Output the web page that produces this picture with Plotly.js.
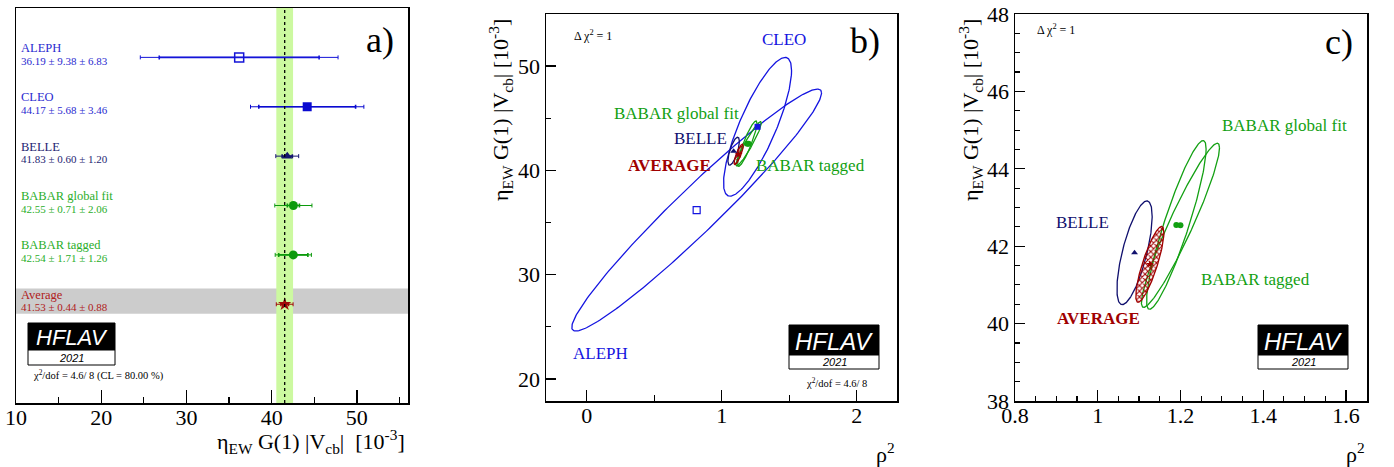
<!DOCTYPE html>
<html><head><meta charset="utf-8">
<script src="https://cdn.plot.ly/plotly-3.0.1.min.js"></script>
<style>html,body{margin:0;padding:0;background:#fff}</style>
</head><body><div id="chart" style="width:1394px;height:467px"></div>
<script>
// ---------- Panel a: measurements ----------
const experiments = ['ALEPH', 'CLEO', 'BELLE', 'BABAR global fit', 'BABAR tagged', 'Average'];
const values = [36.19, 44.17, 41.83, 42.55, 42.54, 41.53];
const statErr = [9.38, 5.68, 0.60, 0.71, 1.71, 0.44];
const systErr = [6.83, 3.46, 1.20, 2.06, 1.26, 0.88];
const rowPos = [6, 5, 4, 3, 2, 1];
const markerColors = ['#1414d8', '#0a0ad0', '#14146e', '#0c9a0c', '#0c9a0c', '#a00a0a'];
const textColors = ['#2a2ad0', '#2a2ad0', '#1e1e72', '#2aae2a', '#2aae2a', '#b02020'];
const markerSymbols = ['square-open', 'square', 'triangle-up', 'circle', 'circle', 'star'];

// ---------- Panels b, c: Δχ²=1 ellipses in (ρ², ηEW G(1)|Vcb|) ----------
const ellNames = ['ALEPH', 'CLEO', 'BELLE', 'BABAR global fit', 'BABAR tagged', 'AVERAGE'];
const ellRho2 = [0.815, 1.266, 1.089, 1.19, 1.20, 1.126];
const ellEta = [36.19, 44.17, 41.83, 42.55, 42.54, 41.53];
const ellSigRho2 = [0.925, 0.252, 0.0426, 0.072, 0.0944, 0.034];
const ellSigEta = [11.6, 6.65, 1.34, 2.18, 2.12, 0.98];
const ellCorr = [0.968, 0.81, 0.70, 0.90, 0.943, 0.832];
const ellColors = ['#1414e0', '#1414e0', '#10106e', '#12a012', '#12a012', '#a00000'];
const ellSymbols = ['square-open', 'square', 'triangle-up', 'circle', 'circle', 'star'];
const inPanelC = [false, false, true, true, true, true];

const W = 1394, H = 467;
const px = x => x / W, py = y => 1 - y / H;
const serif = 'Liberation Serif, Times New Roman, serif';

function ellipse(cx, cy, sx, sy, r) {
  const xs = [], ys = [], n = 240, q = Math.sqrt(1 - r * r);
  for (let i = 0; i <= n; i++) {
    const t = 2 * Math.PI * i / n;
    xs.push(cx + sx * Math.cos(t));
    ys.push(cy + sy * (r * Math.cos(t) + q * Math.sin(t)));
  }
  return {xs, ys};
}

const traces = [];
// Panel a error bars and markers
experiments.forEach((e, i) => {
  const tot = Math.sqrt(statErr[i] ** 2 + systErr[i] ** 2);
  traces.push({x: [values[i]], y: [rowPos[i]], xaxis: 'x', yaxis: 'y', type: 'scatter', mode: 'markers',
    marker: {size: 1, color: 'rgba(0,0,0,0)'},
    error_x: {type: 'data', array: [tot], color: markerColors[i], thickness: 1, width: 2},
    hoverinfo: 'skip'});
  traces.push({x: [values[i]], y: [rowPos[i]], xaxis: 'x', yaxis: 'y', type: 'scatter', mode: 'markers',
    marker: {size: 1, color: 'rgba(0,0,0,0)'},
    error_x: {type: 'data', array: [statErr[i]], color: markerColors[i], thickness: 1.6, width: 2},
    hoverinfo: 'skip'});
  traces.push({x: [values[i]], y: [rowPos[i]], xaxis: 'x', yaxis: 'y', type: 'scatter', mode: 'markers',
    marker: {symbol: markerSymbols[i], size: i === 5 ? 10 : 9, color: markerColors[i],
      line: {width: markerSymbols[i] === 'square-open' ? 1.5 : 0, color: markerColors[i]}},
    name: e});
});

// Panels b and c ellipses
[['x2', 'y2', false], ['x3', 'y3', true]].forEach(([xa, ya, isC]) => {
  const order = [0, 1, 2, 3, 4, 5];
  order.forEach(i => {
    if (isC && !inPanelC[i]) return;
    const el = ellipse(ellRho2[i], ellEta[i], ellSigRho2[i], ellSigEta[i], ellCorr[i]);
    const tr = {x: el.xs, y: el.ys, xaxis: xa, yaxis: ya, type: 'scatter', mode: 'lines',
      line: {color: ellColors[i], width: 1.3}, hoverinfo: 'skip'};
    if (i === 5) {
      tr.fill = 'toself';
      tr.fillcolor = 'rgba(0,0,0,0)';
      tr.fillpattern = {shape: 'x', fgcolor: '#a00000', bgcolor: 'rgba(255,255,255,0)', size: 4, solidity: 0.45};
    }
    traces.push(tr);
  });
  order.forEach(i => {
    if (isC && !inPanelC[i]) return;
    traces.push({x: [ellRho2[i]], y: [ellEta[i]], xaxis: xa, yaxis: ya, type: 'scatter', mode: 'markers',
      marker: {symbol: ellSymbols[i], size: i === 0 ? 7 : 6, color: ellColors[i],
        line: {width: ellSymbols[i] === 'square-open' ? 1.2 : 0, color: ellColors[i]}}, name: ellNames[i]});
  });
});

const avgTot = Math.sqrt(statErr[5] ** 2 + systErr[5] ** 2);
const shapes = [
  {type: 'rect', xref: 'x', yref: 'y', x0: 10, x1: 56, y0: 0.81, y1: 1.32, fillcolor: '#cccccc', line: {width: 0}, layer: 'below'},
  {type: 'rect', xref: 'x', yref: 'y', x0: values[5] - avgTot, x1: values[5] + avgTot, y0: -1, y1: 7, fillcolor: '#ccf9a0', line: {width: 0}, layer: 'below'},
  {type: 'line', xref: 'x', yref: 'y', x0: values[5], x1: values[5], y0: -1, y1: 7, line: {color: '#000', width: 1.3, dash: 'dot'}}
];
const annotations = [];
function logo(x0, x1, yt, ym, yb, fs) {
  shapes.push({type: 'rect', xref: 'paper', yref: 'paper', x0: px(x0), x1: px(x1), y0: py(ym), y1: py(yt), fillcolor: '#000', line: {color: '#000', width: 1}});
  shapes.push({type: 'rect', xref: 'paper', yref: 'paper', x0: px(x0), x1: px(x1), y0: py(yb), y1: py(ym), fillcolor: '#fff', line: {color: '#000', width: 1}});
  annotations.push({xref: 'paper', yref: 'paper', x: px((x0 + x1) / 2), y: py((yt + ym) / 2 + 1), text: '<i>HFLAV</i>', showarrow: false,
    xanchor: 'center', yanchor: 'middle', font: {family: 'Liberation Sans, Arial, sans-serif', size: fs, color: '#fff'}});
  annotations.push({xref: 'paper', yref: 'paper', x: px((x0 + x1) / 2), y: py((ym + yb) / 2), text: '<i>2021</i>', showarrow: false,
    xanchor: 'center', yanchor: 'middle', font: {family: 'Liberation Sans, Arial, sans-serif', size: 11, color: '#000'}});
}
logo(28, 115, 323, 350, 365, 22);
logo(789, 879, 325, 355, 369, 24);
logo(1258, 1348, 325, 355, 369, 24);

function txt(x, y, text, size, color, xanchor, extra) {
  annotations.push(Object.assign({xref: 'paper', yref: 'paper', x: px(x), y: py(y), text, showarrow: false,
    xanchor: xanchor || 'center', yanchor: 'middle', font: {family: serif, size, color: color || '#000'}}, extra || {}));
}
// Panel a labels
experiments.forEach((e, i) => {
  annotations.push({xref: 'paper', yref: 'y', x: px(19), y: rowPos[i] + 0.19, text: e, showarrow: false,
    xanchor: 'left', yanchor: 'middle', font: {family: serif, size: 12.5, color: textColors[i]}});
  annotations.push({xref: 'paper', yref: 'y', x: px(19), y: rowPos[i] - 0.065,
    text: values[i].toFixed(2) + ' ± ' + statErr[i].toFixed(2) + ' ± ' + systErr[i].toFixed(2), showarrow: false,
    xanchor: 'left', yanchor: 'middle', font: {family: serif, size: 11, color: textColors[i]}});
});
txt(31, 375, 'χ<sup>2</sup>/dof = 4.6/ 8 (CL = 80.00 %)', 10.5, '#000', 'left');
txt(380, 40, 'a)', 36);
txt(407, 441, 'η<sub>EW</sub> G(1) |V<sub>cb</sub>|  [10<sup>-3</sup>]', 22, '#000', 'right');
// Panel b labels
txt(784, 40, 'CLEO', 17, '#1414e0');
txt(676, 113, 'BABAR global fit', 17, '#12a012');
txt(700, 138, 'BELLE', 17, '#10106e');
txt(669, 165, '<b>AVERAGE</b>', 17, '#a00000');
txt(810, 165, 'BABAR tagged', 17, '#12a012');
txt(600, 353, 'ALEPH', 17, '#1414e0');
txt(572, 35, 'Δ χ<sup>2</sup> = 1', 12, '#000', 'left');
txt(865, 41, 'b)', 36);
txt(836, 382, 'χ<sup>2</sup>/dof = 4.6/ 8', 10.5);
txt(897, 453, 'ρ<sup>2</sup>', 22, '#000', 'right');
txt(500, 110, 'η<sub>EW</sub> G(1) |V<sub>cb</sub>| [10<sup>-3</sup>]', 22, '#000', 'center', {textangle: -90});
// Panel c labels
txt(1284, 125, 'BABAR global fit', 17, '#12a012');
txt(1082, 222, 'BELLE', 17, '#10106e');
txt(1255, 279, 'BABAR tagged', 17, '#12a012');
txt(1098, 318, '<b>AVERAGE</b>', 17, '#a00000');
txt(1035, 29, 'Δ χ<sup>2</sup> = 1', 12, '#000', 'left');
txt(1339, 42, 'c)', 36);
txt(1367, 453, 'ρ<sup>2</sup>', 22, '#000', 'right');
txt(970, 110, 'η<sub>EW</sub> G(1) |V<sub>cb</sub>| [10<sup>-3</sup>]', 22, '#000', 'center', {textangle: -90});

const axBase = {showgrid: false, zeroline: false, showline: true, linecolor: '#000', linewidth: 1.5, mirror: true,
  ticks: 'inside', tickcolor: '#000', tickwidth: 1.3, tickfont: {family: serif, size: 22, color: '#000'}, fixedrange: true};
const xStand = -6;
const layout = {
  width: W, height: H, margin: {l: 0, r: 0, t: 0, b: 0}, showlegend: false,
  paper_bgcolor: '#fff', plot_bgcolor: '#fff',
  xaxis: Object.assign({}, axBase, {domain: [px(16), px(408)], range: [10, 56], anchor: 'y', tick0: 10, dtick: 10, ticklen: 13, ticklabelstandoff: xStand,
    minor: {dtick: 5, tick0: 10, ticklen: 6, ticks: 'inside', tickcolor: '#000', tickwidth: 1.2}}),
  yaxis: Object.assign({}, axBase, {domain: [py(403), py(8)], range: [-1, 7], anchor: 'x', ticks: '', showticklabels: false}),
  xaxis2: Object.assign({}, axBase, {domain: [px(546), px(897)], range: [-0.301, 2.299], anchor: 'y2', tick0: 0, dtick: 1, ticklen: 11, ticklabelstandoff: xStand,
    minor: {dtick: 0.5, tick0: 0, ticklen: 6, ticks: 'inside', tickcolor: '#000', tickwidth: 1.2}}),
  yaxis2: Object.assign({}, axBase, {domain: [py(401), py(14)], range: [17.89, 54.98], anchor: 'x2', tick0: 0, dtick: 10, ticklen: 10,
    minor: {dtick: 5, tick0: 0, ticklen: 5, ticks: 'inside', tickcolor: '#000', tickwidth: 1.2}}),
  xaxis3: Object.assign({}, axBase, {domain: [px(1015), px(1367)], range: [0.8, 1.651], anchor: 'y3', tick0: 0.8, dtick: 0.2, ticklen: 11, ticklabelstandoff: xStand,
    minor: {dtick: 0.05, tick0: 0.8, ticklen: 5, ticks: 'inside', tickcolor: '#000', tickwidth: 1.2}}),
  yaxis3: Object.assign({}, axBase, {domain: [py(401), py(14)], range: [38, 48], anchor: 'x3', tick0: 38, dtick: 2, ticklen: 10,
    minor: {dtick: 0.5, tick0: 38, ticklen: 5, ticks: 'inside', tickcolor: '#000', tickwidth: 1.2}}),
  shapes, annotations
};
Plotly.newPlot('chart', traces, layout, {staticPlot: true, displayModeBar: false});
</script></body></html>
